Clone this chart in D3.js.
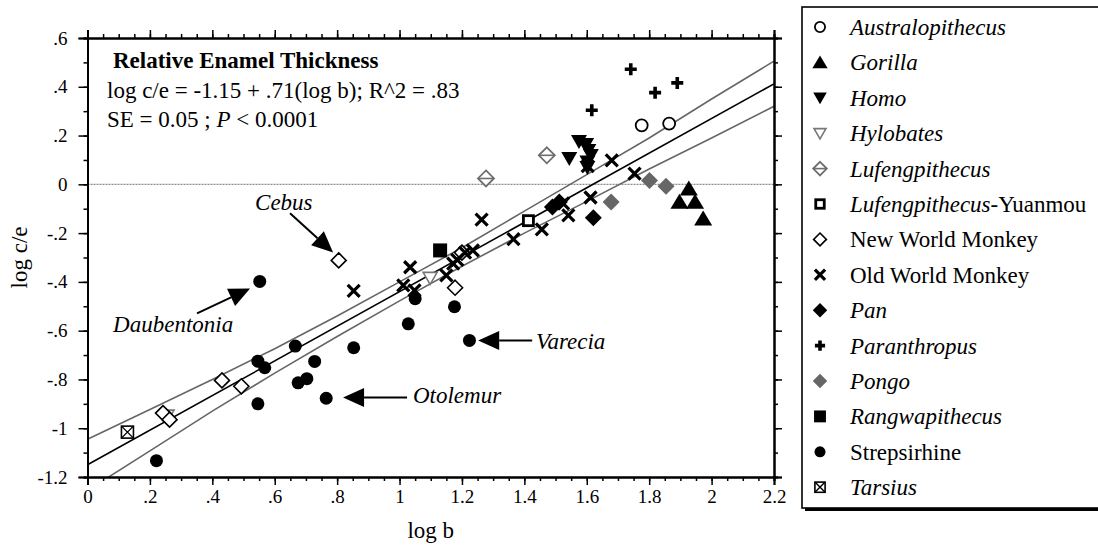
<!DOCTYPE html>
<html>
<head>
<meta charset="utf-8">
<script src="https://cdn.jsdelivr.net/npm/d3@7"></script>
<style>
  body { margin: 0; background: #fff; }
  svg { display: block; font-family: "Liberation Serif", "Times New Roman", serif; }
</style>
</head>
<body>
<script>
// ---- data (log b, log c/e) ----
const australopithecus = [[1.776, 0.242], [1.864, 0.249]];
const gorilla = [[1.927, -0.018], [1.897, -0.072], [1.947, -0.072], [1.973, -0.141]];
const homo = [[1.544, 0.107], [1.575, 0.176], [1.598, 0.164], [1.605, 0.14], [1.613, 0.119], [1.602, 0.092], [1.602, 0.07]];
const hylobates = [[0.255, -0.948], [1.098, -0.383]];
const lufengpithecus = [[1.472, 0.119], [1.277, 0.024]];
const lufengYuanmou = [[1.413, -0.149]];
const newWorldMonkey = [[0.242, -0.938], [0.263, -0.965], [0.431, -0.804], [0.493, -0.828], [0.805, -0.312], [1.178, -0.424], [1.2, -0.28]];
const oldWorldMonkey = [[0.853, -0.437], [1.012, -0.414], [1.034, -0.34], [1.048, -0.435], [1.15, -0.373], [1.172, -0.325],
  [1.185, -0.31], [1.21, -0.28], [1.235, -0.271], [1.263, -0.145], [1.365, -0.225], [1.456, -0.185], [1.524, -0.078],
  [1.541, -0.127], [1.603, 0.075], [1.612, -0.054], [1.68, 0.098], [1.753, 0.044]];
const pan = [[1.49, -0.093], [1.512, -0.072], [1.621, -0.137]];
const paranthropus = [[1.741, 0.472], [1.819, 0.376], [1.89, 0.416], [1.616, 0.304]];
const pongo = [[1.678, -0.072], [1.801, 0.016], [1.854, -0.008]];
const rangwapithecus = [[1.13, -0.271]];
const strepsirhine = [[0.221, -1.133], [0.546, -0.725], [0.568, -0.752], [0.546, -0.9], [0.552, -0.398], [0.666, -0.663],
  [0.675, -0.814], [0.703, -0.797], [0.728, -0.726], [0.765, -0.877], [0.853, -0.67], [1.028, -0.572], [1.05, -0.469],
  [1.176, -0.502], [1.224, -0.64]];
const tarsius = [[0.128, -1.016]];

// regression line and its band
const regIntercept = -1.15;
const regSlope = 0.71;
const bandX = [0, 0.2, 0.4, 0.6, 0.8, 1.0, 1.2, 1.4, 1.6, 1.8, 2.0, 2.2];
const bandUpper = [-1.045, -0.923, -0.80, -0.674, -0.54, -0.40, -0.26, -0.11, 0.04, 0.19, 0.35, 0.505];
const bandLower = [-1.255, -1.093, -0.93, -0.774, -0.624, -0.478, -0.336, -0.20, -0.07, 0.063, 0.19, 0.32];

// ticks
const xTicks = [0, 0.2, 0.4, 0.6, 0.8, 1, 1.2, 1.4, 1.6, 1.8, 2, 2.2];
const xTickLabels = ["0", ".2", ".4", ".6", ".8", "1", "1.2", "1.4", "1.6", "1.8", "2", "2.2"];
const yTicks = [0.6, 0.4, 0.2, 0, -0.2, -0.4, -0.6, -0.8, -1, -1.2];
const yTickLabels = [".6", ".4", ".2", "0", "-.2", "-.4", "-.6", "-.8", "-1", "-1.2"];

// annotations: [label, text x, text y, arrow start x, y, arrow tip x, y]
const annotations = [
  ["Cebus", 0.537, -0.107, 0.649, -0.119, 0.787, -0.279],
  ["Daubentonia", 0.082, -0.607, 0.351, -0.529, 0.521, -0.427],
  ["Varecia", 1.437, -0.677, 1.425, -0.64, 1.252, -0.64],
  ["Otolemur", 1.043, -0.895, 1.024, -0.874, 0.819, -0.874]
];

const groups = [
  { name: "Australopithecus", italic: true, marker: "circleOpen", data: australopithecus },
  { name: "Gorilla", italic: true, marker: "triUp", data: gorilla },
  { name: "Homo", italic: true, marker: "triDown", data: homo },
  { name: "Hylobates", italic: true, marker: "triDownGray", data: hylobates },
  { name: "Lufengpithecus", italic: true, marker: "diamondLine", data: lufengpithecus },
  { name: "Lufengpithecus", suffix: "-Yuanmou", italic: true, marker: "squareThick", data: lufengYuanmou },
  { name: "New World Monkey", italic: false, marker: "diamondOpen", data: newWorldMonkey },
  { name: "Old World Monkey", italic: false, marker: "cross", data: oldWorldMonkey },
  { name: "Pan", italic: true, marker: "diamond", data: pan },
  { name: "Paranthropus", italic: true, marker: "plus", data: paranthropus },
  { name: "Pongo", italic: true, marker: "diamondGray", data: pongo },
  { name: "Rangwapithecus", italic: true, marker: "square", data: rangwapithecus },
  { name: "Strepsirhine", italic: false, marker: "circle", data: strepsirhine },
  { name: "Tarsius", italic: true, marker: "squareX", data: tarsius }
];

const width = 1098;
const height = 546;
const plot = { left: 87.5, right: 774, top: 38, bottom: 477 };

const svg = d3.select("body").append("svg")
  .attr("width", width)
  .attr("height", height);

const x = d3.scaleLinear().domain([0, 2.2]).range([plot.left, plot.right]);
const y = d3.scaleLinear().domain([-1.2, 0.6]).range([plot.bottom, plot.top]);

svg.append("clipPath").attr("id", "clip")
  .append("rect")
  .attr("x", plot.left).attr("y", plot.top)
  .attr("width", plot.right - plot.left).attr("height", plot.bottom - plot.top);

// zero line
svg.append("line")
  .attr("x1", x(0)).attr("x2", x(2.2))
  .attr("y1", y(0)).attr("y2", y(0))
  .attr("stroke", "#8a8a8a")
  .attr("stroke-width", 1.3)
  .attr("stroke-dasharray", "2,1");

// band + regression
const lineGen = d3.line().x(d => x(d[0])).y(d => y(d[1]));
const lines = svg.append("g").attr("clip-path", "url(#clip)").attr("fill", "none");
lines.append("path")
  .attr("d", lineGen(bandX.map((v, i) => [v, bandUpper[i]])))
  .attr("stroke", "#666").attr("stroke-width", 1.6);
lines.append("path")
  .attr("d", lineGen(bandX.map((v, i) => [v, bandLower[i]])))
  .attr("stroke", "#666").attr("stroke-width", 1.6);
lines.append("path")
  .attr("d", lineGen([[0, regIntercept], [2.2, regIntercept + regSlope * 2.2]]))
  .attr("stroke", "#000").attr("stroke-width", 1.6);

// markers
function drawMarker(g, type, k) {
  k = k || 1;
  const tri = (w, h, up) => up
    ? `M0,${-h * 0.55}L${w / 2},${h * 0.45}L${-w / 2},${h * 0.45}Z`
    : `M0,${h * 0.55}L${w / 2},${-h * 0.45}L${-w / 2},${-h * 0.45}Z`;
  const dia = r => `M0,${-r}L${r},0L0,${r}L${-r},0Z`;
  switch (type) {
    case "circleOpen":
      g.append("circle").attr("r", 6 * k).attr("fill", "#fff").attr("stroke", "#000").attr("stroke-width", 1.8);
      break;
    case "circle":
      g.append("circle").attr("r", 6.5 * k).attr("fill", "#000");
      break;
    case "triUp":
      g.append("path").attr("d", tri(18 * k, 15 * k, true)).attr("fill", "#000");
      break;
    case "triDown":
      g.append("path").attr("d", tri(16 * k, 14 * k, false)).attr("fill", "#000");
      break;
    case "triDownGray":
      g.append("path").attr("d", tri(14 * k, 12 * k, false)).attr("fill", "#fff")
        .attr("stroke", "#777").attr("stroke-width", 1.6);
      break;
    case "diamondLine":
      g.append("path").attr("d", dia(8 * k)).attr("fill", "#fff").attr("stroke", "#6e6e6e").attr("stroke-width", 1.8);
      g.append("line").attr("x1", -8 * k).attr("x2", 8 * k).attr("stroke", "#6e6e6e").attr("stroke-width", 1.6);
      break;
    case "squareThick":
      g.append("rect").attr("x", -5 * k).attr("y", -5 * k).attr("width", 10 * k).attr("height", 10 * k)
        .attr("fill", "#fff").attr("stroke", "#000").attr("stroke-width", 2.8);
      break;
    case "diamondOpen":
      g.append("path").attr("d", dia(7.5 * k)).attr("fill", "#fff").attr("stroke", "#000").attr("stroke-width", 1.6);
      break;
    case "cross":
      g.append("path").attr("d", `M${-6 * k},${-6 * k}L${6 * k},${6 * k}M${-6 * k},${6 * k}L${6 * k},${-6 * k}`)
        .attr("stroke", "#000").attr("stroke-width", 3.2);
      break;
    case "diamond":
      g.append("path").attr("d", dia(8.5 * k)).attr("fill", "#000");
      break;
    case "plus":
      g.append("path").attr("d", `M${-6 * k},0L${6 * k},0M0,${-6 * k}L0,${6 * k}`)
        .attr("stroke", "#000").attr("stroke-width", 3.6);
      break;
    case "diamondGray":
      g.append("path").attr("d", dia(8.5 * k)).attr("fill", "#666");
      break;
    case "square":
      g.append("rect").attr("x", -7 * k).attr("y", -7 * k).attr("width", 14 * k).attr("height", 14 * k).attr("fill", "#000");
      break;
    case "squareX":
      g.append("rect").attr("x", -6 * k).attr("y", -6 * k).attr("width", 12 * k).attr("height", 12 * k)
        .attr("fill", "#fff").attr("stroke", "#000").attr("stroke-width", 1.6);
      g.append("path").attr("d", `M${-6 * k},${-6 * k}L${6 * k},${6 * k}M${-6 * k},${6 * k}L${6 * k},${-6 * k}`)
        .attr("stroke", "#000").attr("stroke-width", 1.4);
      break;
  }
}

const pts = svg.append("g");
groups.forEach(grp => {
  grp.data.forEach(d => {
    const g = pts.append("g").attr("transform", `translate(${x(d[0])},${y(d[1])})`);
    drawMarker(g, grp.marker, 1);
  });
});

// axes
function styleAxis(g) {
  g.select(".domain").attr("stroke-width", 2);
  g.selectAll(".tick line").attr("stroke-width", 1.5);
  g.selectAll("text").attr("font-size", 19).attr("fill", "#000")
    .attr("font-family", "Liberation Serif, Times New Roman, serif");
}
const xMinor = d3.range(0, 2.2001, 0.05);
const yMinor = d3.range(-1.2, 0.6001, 0.1);

svg.append("g").attr("transform", `translate(0,${plot.bottom})`)
  .call(d3.axisBottom(x).tickValues(xMinor).tickSize(4).tickFormat(""))
  .call(styleAxis);
svg.append("g").attr("transform", `translate(0,${plot.bottom})`)
  .call(d3.axisBottom(x).tickValues(xTicks).tickSize(8).tickPadding(6).tickFormat((d, i) => xTickLabels[i]))
  .call(styleAxis)
  .call(g => g.selectAll("text").attr("dy", null).attr("y", 26));
svg.append("g").attr("transform", `translate(0,${plot.top})`)
  .call(d3.axisTop(x).tickValues(xMinor).tickSize(4).tickFormat(""))
  .call(styleAxis);
svg.append("g").attr("transform", `translate(0,${plot.top})`)
  .call(d3.axisTop(x).tickValues(xTicks).tickSize(8).tickFormat(""))
  .call(styleAxis);
svg.append("g").attr("transform", `translate(${plot.left},0)`)
  .call(d3.axisLeft(y).tickValues(yMinor).tickSize(4).tickFormat(""))
  .call(styleAxis);
svg.append("g").attr("transform", `translate(${plot.left},0)`)
  .call(d3.axisLeft(y).tickValues(yTicks).tickSize(9).tickPadding(11).tickFormat((d, i) => yTickLabels[i]))
  .call(styleAxis);
svg.append("g").attr("transform", `translate(${plot.right},0)`)
  .call(d3.axisRight(y).tickValues(yMinor).tickSize(4).tickFormat(""))
  .call(styleAxis);
svg.append("g").attr("transform", `translate(${plot.right},0)`)
  .call(d3.axisRight(y).tickValues(yTicks).tickSize(8).tickFormat(""))
  .call(styleAxis);

// axis titles
svg.append("text")
  .attr("x", (plot.left + plot.right) / 2).attr("y", 538)
  .attr("text-anchor", "middle").attr("font-size", 23)
  .text("log b");
svg.append("text")
  .attr("transform", `translate(27,${(plot.top + plot.bottom) / 2}) rotate(-90)`)
  .attr("text-anchor", "middle").attr("font-size", 23)
  .text("log c/e");

// stats text
svg.append("text").attr("x", 113).attr("y", 68)
  .attr("font-size", 23).attr("font-weight", "bold")
  .text("Relative Enamel Thickness");
svg.append("text").attr("x", 107).attr("y", 98)
  .attr("font-size", 23)
  .text("log c/e = -1.15 + .71(log b); R^2 = .83");
const se = svg.append("text").attr("x", 107).attr("y", 127).attr("font-size", 23);
se.append("tspan").text("SE = 0.05 ; ");
se.append("tspan").attr("font-style", "italic").text("P");
se.append("tspan").text(" < 0.0001");

// annotations with arrows
annotations.forEach(([label, tx, ty, sx, sy, ex, ey]) => {
  svg.append("text").attr("x", x(tx)).attr("y", y(ty))
    .attr("font-size", 23).attr("font-style", "italic")
    .text(label);
  const x1 = x(sx), y1 = y(sy), x2 = x(ex), y2 = y(ey);
  const ang = Math.atan2(y2 - y1, x2 - x1);
  const len = 21, hw = 9.5;
  const bx = x2 - len * Math.cos(ang), by = y2 - len * Math.sin(ang);
  svg.append("line").attr("x1", x1).attr("y1", y1).attr("x2", bx).attr("y2", by)
    .attr("stroke", "#000").attr("stroke-width", 2);
  const p1 = [bx + hw * Math.sin(ang), by - hw * Math.cos(ang)];
  const p2 = [bx - hw * Math.sin(ang), by + hw * Math.cos(ang)];
  svg.append("path").attr("d", `M${x2},${y2}L${p1[0]},${p1[1]}L${p2[0]},${p2[1]}Z`).attr("fill", "#000");
});

// legend
const legend = svg.append("g");
legend.append("rect").attr("x", 805).attr("y", 10).attr("width", 320).attr("height", 501).attr("fill", "#000");
legend.append("rect").attr("x", 802).attr("y", 7).attr("width", 320).attr("height", 501)
  .attr("fill", "#fff").attr("stroke", "#000").attr("stroke-width", 1.6);
groups.forEach((grp, i) => {
  const cy = 27 + i * 35.4;
  const g = legend.append("g").attr("transform", `translate(820,${cy})`);
  drawMarker(g, grp.marker, 0.85);
  const t = legend.append("text").attr("x", 850).attr("y", cy + 8).attr("font-size", 23);
  t.append("tspan").attr("font-style", grp.italic ? "italic" : "normal").text(grp.name);
  if (grp.suffix) t.append("tspan").text(grp.suffix);
});
</script>
</body>
</html>
